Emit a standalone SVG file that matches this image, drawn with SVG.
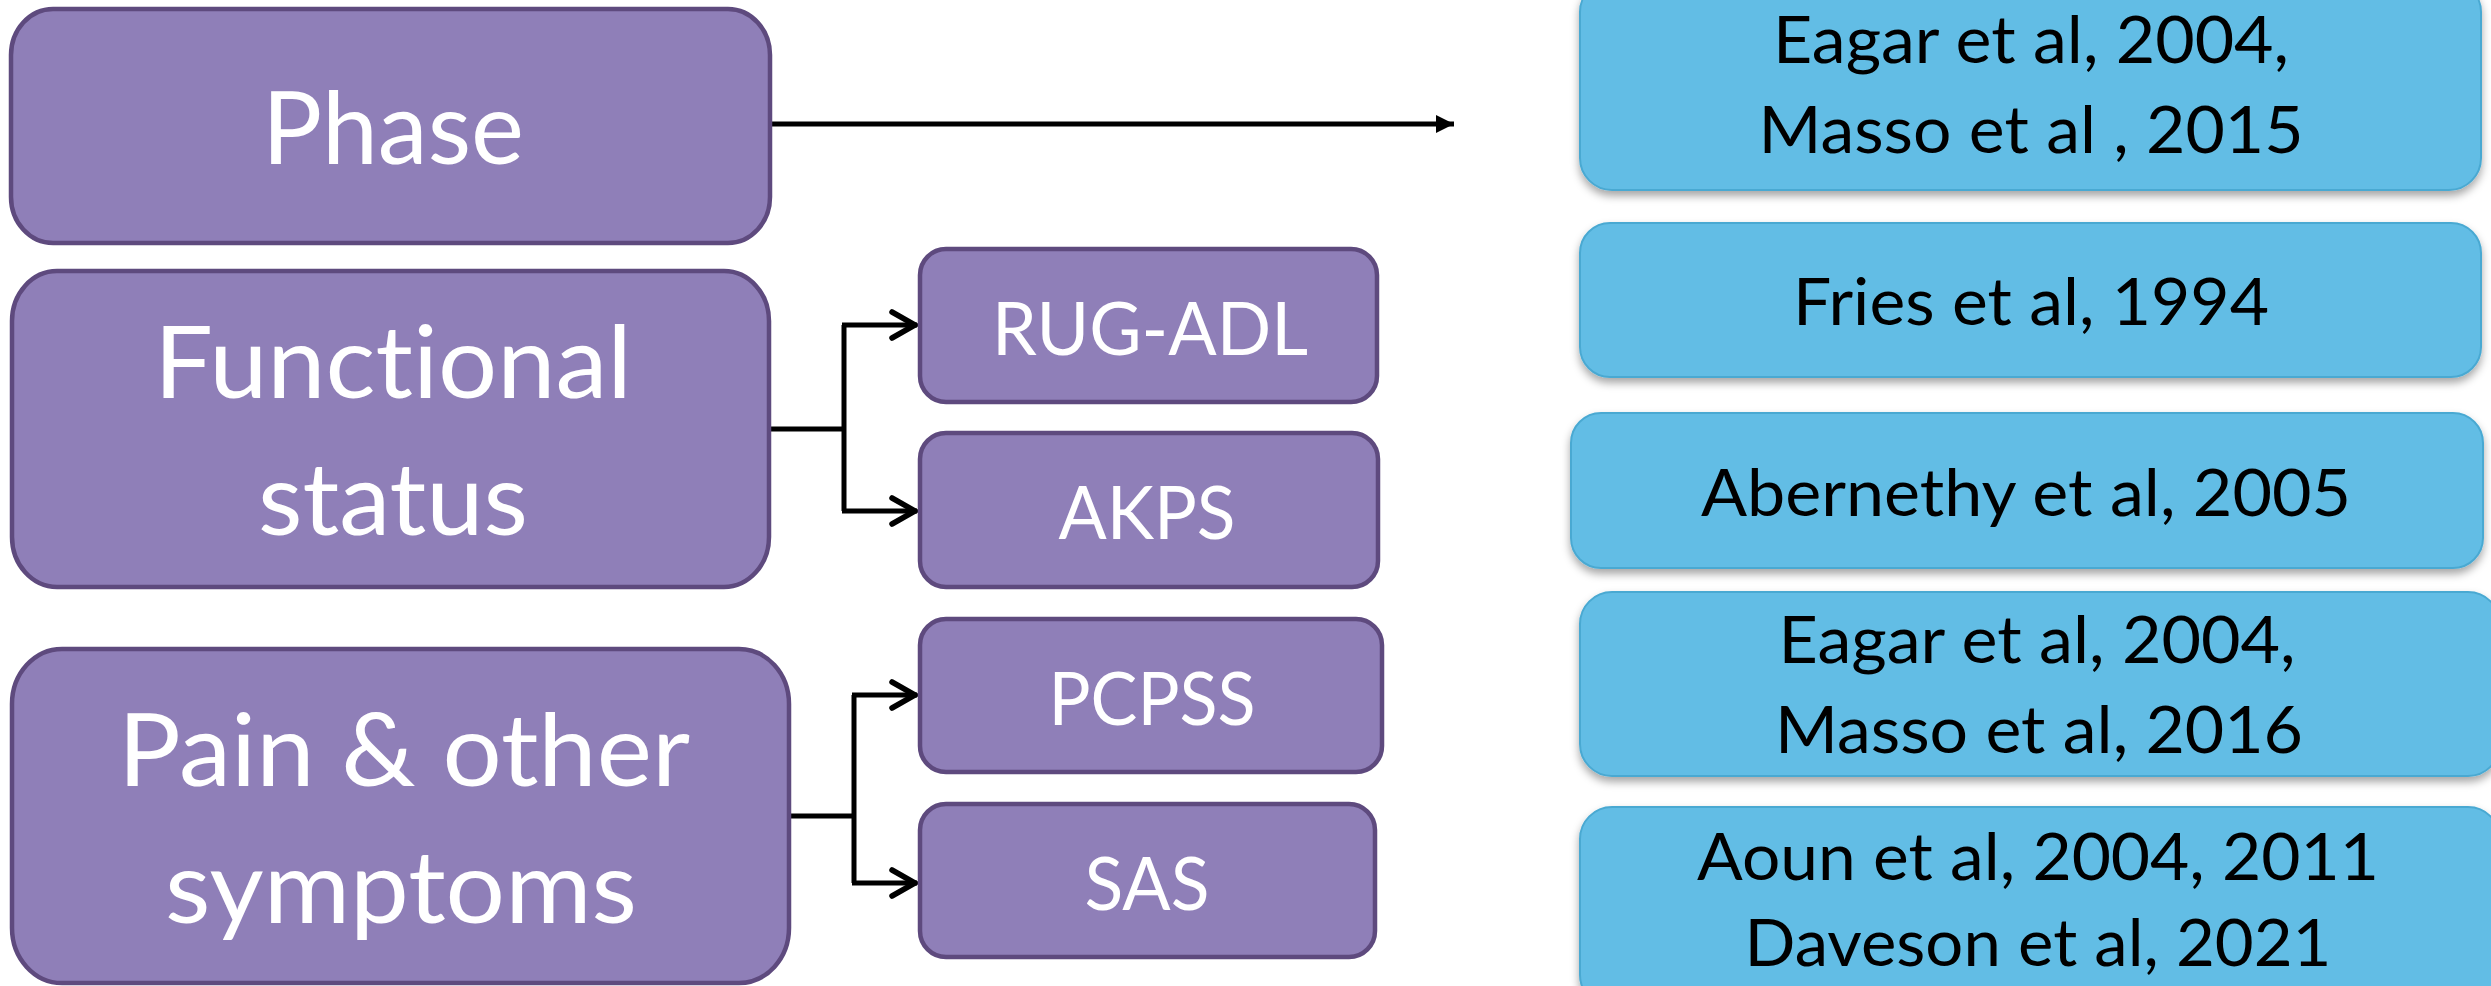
<svg xmlns="http://www.w3.org/2000/svg" width="2491" height="986" viewBox="0 0 2491 986">
<style>
.pbox{fill:#8f7fb8;stroke:#5e4a7e;stroke-width:4.5}
.bbox{fill:#62bde5;stroke:#4aa9d2;stroke-width:2;filter:url(#sh)}
.wt{font-family:Lato,"Open Sans","Liberation Sans",sans-serif;fill:#ffffff;text-anchor:middle;font-variant-ligatures:none;font-feature-settings:"liga" 0,"clig" 0}
.bt{font-family:Lato,"Open Sans","Liberation Sans",sans-serif;fill:#000000;text-anchor:middle;font-size:65px;font-variant-ligatures:none;font-feature-settings:"liga" 0,"clig" 0}
.big{font-size:100px}
.mid{font-size:74px}
.con{fill:none;stroke:#000;stroke-width:5;stroke-linejoin:miter}
</style>
<defs>
<filter id="sh" x="-5%" y="-10%" width="110%" height="130%">
<feDropShadow dx="0" dy="5" stdDeviation="4" flood-color="#000" flood-opacity="0.35"/>
</filter>
<marker id="tri" markerUnits="userSpaceOnUse" markerWidth="20" markerHeight="20" refX="18" refY="9" orient="auto">
<path d="M0,0 L18,9 L0,18 Z" fill="#000"/>
</marker>
<marker id="chev" markerUnits="userSpaceOnUse" markerWidth="40" markerHeight="40" refX="30" refY="16" orient="auto">
<path d="M5,3 L28,16 L5,29" fill="none" stroke="#000" stroke-width="5.5" stroke-linecap="round" stroke-linejoin="miter"/>
</marker>
</defs>
<rect width="2491" height="986" fill="#ffffff"/>

<g id="connectors">
<path class="con" d="M770,124 H1454" marker-end="url(#tri)"/>
<path class="con" d="M769,429 H844"/>
<path class="con" d="M844,325 V511"/>
<path class="con" d="M842,325 H917" marker-end="url(#chev)"/>
<path class="con" d="M842,511 H917" marker-end="url(#chev)"/>
<path class="con" d="M789,816 H854"/>
<path class="con" d="M854,695 V883"/>
<path class="con" d="M852,695 H917" marker-end="url(#chev)"/>
<path class="con" d="M852,883 H917" marker-end="url(#chev)"/>
</g>

<g id="node-phase">
<rect class="pbox" x="11" y="9" width="759" height="234" rx="42" ry="46"/>
<text class="wt big" x="393" y="164" textLength="262" lengthAdjust="spacingAndGlyphs">Phase</text>
</g>
<g id="node-functional">
<rect class="pbox" x="12" y="271" width="757" height="316" rx="45" ry="50"/>
<text class="wt big" x="393" y="398" textLength="478" lengthAdjust="spacingAndGlyphs">Functional</text>
<text class="wt big" x="393" y="535" textLength="270" lengthAdjust="spacingAndGlyphs">status</text>
</g>
<g id="node-pain">
<rect class="pbox" x="12" y="649" width="777" height="334" rx="50" ry="55"/>
<text class="wt big" x="404" y="786" textLength="572" lengthAdjust="spacingAndGlyphs">Pain &amp; other</text>
<text class="wt big" x="401" y="923" textLength="472" lengthAdjust="spacingAndGlyphs">symptoms</text>
</g>
<g id="node-rugadl">
<rect class="pbox" x="920" y="249" width="457" height="153" rx="26" ry="26"/>
<text class="wt mid" x="1150" y="355" textLength="316" lengthAdjust="spacingAndGlyphs">RUG-ADL</text>
</g>
<g id="node-akps">
<rect class="pbox" x="920" y="433" width="458" height="154" rx="26" ry="26"/>
<text class="wt mid" x="1147" y="539" textLength="177" lengthAdjust="spacingAndGlyphs">AKPS</text>
</g>
<g id="node-pcpss">
<rect class="pbox" x="920" y="619" width="462" height="153" rx="26" ry="26"/>
<text class="wt mid" x="1152" y="725" textLength="207" lengthAdjust="spacingAndGlyphs">PCPSS</text>
</g>
<g id="node-sas">
<rect class="pbox" x="920" y="804" width="455" height="153" rx="26" ry="26"/>
<text class="wt mid" x="1147" y="910" textLength="125" lengthAdjust="spacingAndGlyphs">SAS</text>
</g>

<g id="ref-phase">
<rect class="bbox" x="1580" y="-20" width="901" height="210" rx="32" ry="32"/>
<text class="bt" x="2031" y="63" textLength="516" lengthAdjust="spacingAndGlyphs">Eagar et al, 2004,</text>
<text class="bt" x="2031" y="153" textLength="545" lengthAdjust="spacingAndGlyphs">Masso et al , 2015</text>
</g>
<g id="ref-rugadl">
<rect class="bbox" x="1580" y="223" width="901" height="154" rx="30" ry="30"/>
<text class="bt" x="2031" y="325" textLength="476" lengthAdjust="spacingAndGlyphs">Fries et al, 1994</text>
</g>
<g id="ref-akps">
<rect class="bbox" x="1571" y="413" width="912" height="155" rx="30" ry="30"/>
<text class="bt" x="2026" y="516" textLength="650" lengthAdjust="spacingAndGlyphs">Abernethy et al, 2005</text>
</g>
<g id="ref-pcpss">
<rect class="bbox" x="1580" y="592" width="920" height="184" rx="32" ry="32"/>
<text class="bt" x="2037" y="663" textLength="517" lengthAdjust="spacingAndGlyphs">Eagar et al, 2004,</text>
<text class="bt" x="2039" y="753" textLength="528" lengthAdjust="spacingAndGlyphs">Masso et al, 2016</text>
</g>
<g id="ref-sas">
<rect class="bbox" x="1580" y="807" width="920" height="200" rx="32" ry="32"/>
<text class="bt" x="2038" y="880" textLength="682" lengthAdjust="spacingAndGlyphs">Aoun et al, 2004, 2011</text>
<text class="bt" x="2038" y="966" textLength="587" lengthAdjust="spacingAndGlyphs">Daveson et al, 2021</text>
</g>
</svg>
